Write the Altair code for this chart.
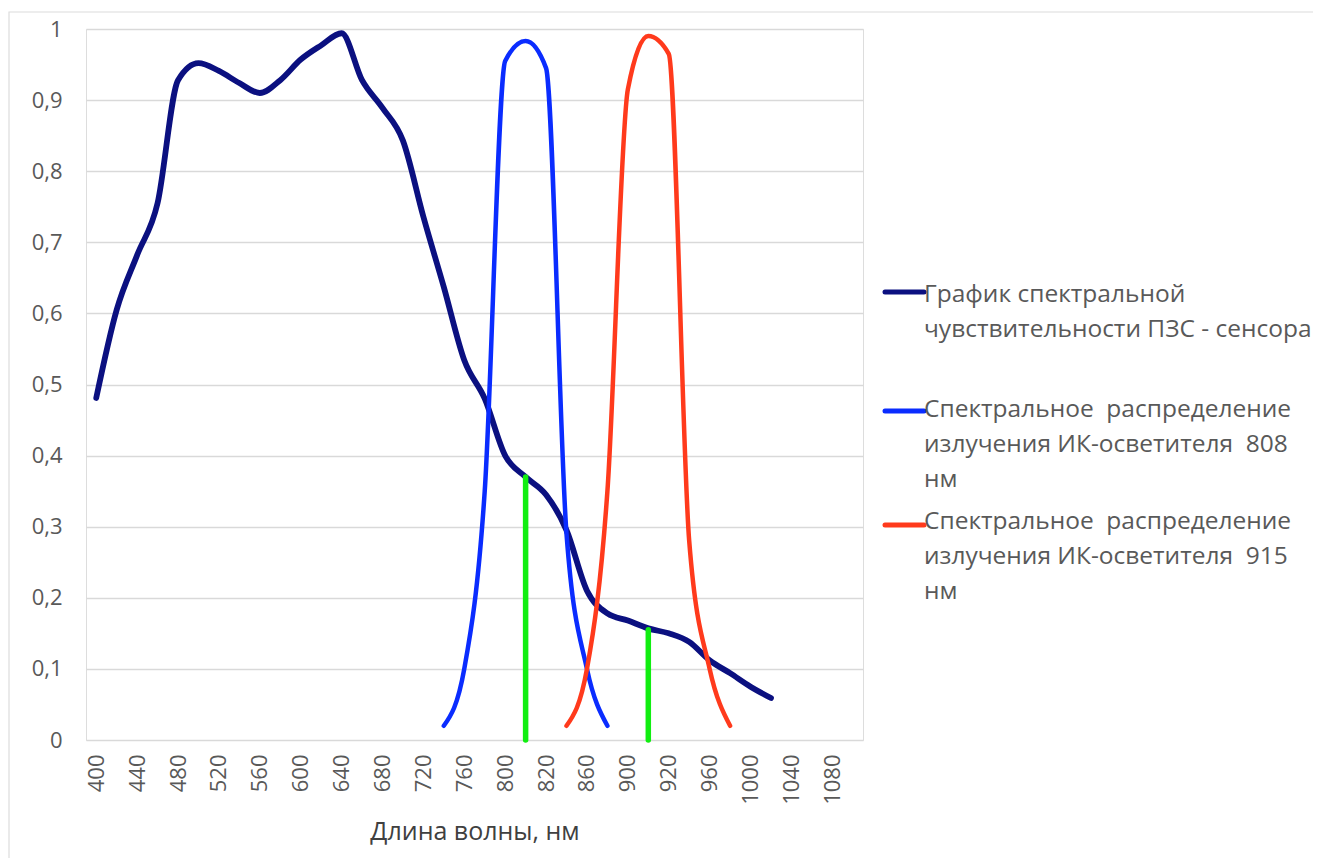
import altair as alt
import pandas as pd

# ---- data ----
categories = [400, 420, 440, 460, 480, 500, 520, 540, 560, 580, 600, 620, 640, 660,
              680, 700, 720, 740, 760, 780, 800, 808, 820, 840, 860, 880, 900, 915,
              920, 940, 960, 980, 1000, 1020, 1040, 1060, 1080, 1100]
tick_labels = [400, 440, 480, 520, 560, 600, 640, 680, 720, 760, 800, 820, 860, 900,
               920, 960, 1000, 1040, 1080]

sensor_wl = [400, 420, 440, 460, 480, 500, 520, 540, 560, 580, 600, 620, 640, 660,
             680, 700, 720, 740, 760, 780, 800, 808, 820, 840, 860, 880, 900, 915,
             920, 940, 960, 980, 1000, 1020]
sensor_val = [0.481, 0.605, 0.682, 0.755, 0.928, 0.952, 0.941, 0.924, 0.910, 0.928,
              0.957, 0.977, 0.994, 0.928, 0.889, 0.843, 0.736, 0.637, 0.534, 0.480,
              0.400, 0.370, 0.345, 0.295, 0.210, 0.178, 0.168, 0.157, 0.150, 0.138,
              0.112, 0.094, 0.075, 0.059]

led808_wl = [740, 760, 780, 800, 808, 820, 840, 860, 880]
led808_val = [0.02, 0.10, 0.35, 0.955, 0.983, 0.945, 0.29, 0.10, 0.02]

led915_wl = [840, 860, 880, 900, 915, 920, 940, 960, 980]
led915_val = [0.02, 0.10, 0.35, 0.915, 0.990, 0.965, 0.28, 0.10, 0.02]

marker_wl = [808, 915]
marker_val = [0.370, 0.155]

y_ticks = [0, 0.1, 0.2, 0.3, 0.4, 0.5, 0.6, 0.7, 0.8, 0.9, 1.0]

NB = "\u00a0"
legend_names = [
    ["График спектральной", "чувствительности ПЗС - сенсора"],
    ["Спектральное" + NB + " распределение", "излучения ИК-осветителя" + NB + " 808", "нм"],
    ["Спектральное" + NB + " распределение", "излучения ИК-осветителя" + NB + " 915", "нм"],
]

NAVY = "#0b1080"
BLUE = "#0a2cff"
RED = "#ff3a1c"
GREEN = "#11ee11"
series_colors = [NAVY, BLUE, RED]

FONT = "Open Sans"
LABEL_COLOR = "#595959"

# ---- encodings ----
x_enc = alt.X(
    "wl:O",
    scale=alt.Scale(type="point", domain=categories, padding=0.5),
    axis=alt.Axis(
        values=tick_labels, labelAngle=270, labelFontSize=22, labelFont=FONT,
        labelColor=LABEL_COLOR, ticks=False, domain=False, grid=False,
        labelPadding=14, title="Длина волны, нм", titleFont=FONT, titleFontSize=25,
        titleFontWeight="normal", titleColor="#404040", titlePadding=15,
    ),
)
y_enc = alt.Y(
    "val:Q",
    scale=alt.Scale(domain=[0, 1], nice=False, zero=True),
    axis=alt.Axis(
        values=y_ticks, labelExpr="replace(format(datum.value, '.1~f'), '.', ',')",
        labelFontSize=22, labelFont=FONT, labelColor=LABEL_COLOR, ticks=False,
        domain=False, grid=True, gridColor="#d9d9d9", gridWidth=1.3,
        labelPadding=24, title=None,
    ),
)

sensor_df = pd.DataFrame({"wl": sensor_wl, "val": sensor_val})
led808_df = pd.DataFrame({"wl": led808_wl, "val": led808_val})
led915_df = pd.DataFrame({"wl": led915_wl, "val": led915_val})
marker_df = pd.DataFrame({"wl": marker_wl, "val": marker_val})

def curve(df, color, width):
    return alt.Chart(df).mark_line(
        color=color, strokeWidth=width, interpolate="monotone", strokeCap="round",
        strokeJoin="round"
    ).encode(x=x_enc, y=y_enc)

sensor = curve(sensor_df, NAVY, 5.8)
led808 = curve(led808_df, BLUE, 4.5)
led915 = curve(led915_df, RED, 4.5)

markers = alt.Chart(marker_df).mark_rule(
    color=GREEN, strokeWidth=5.5, strokeCap="round"
).encode(x=x_enc, y=y_enc, y2=alt.datum(0))

# chart-area frame (light border like the spreadsheet chart)
frame = alt.Chart().mark_rect(
    fillOpacity=0, stroke="#dcdcdc", strokeWidth=1.2
).encode(x=alt.value(-77), x2=alt.value(1300), y=alt.value(-17), y2=alt.value(900))

# ---- manual legend (multi-line labels) ----
legend_x = 799
legend_sym_len = 39
legend_sym_y = [263, 382, 496]
legend_text_y = [273, 388, 500]
legend_layers = []
for lines, color, sy, ty in zip(legend_names, series_colors, legend_sym_y, legend_text_y):
    legend_layers.append(
        alt.Chart().mark_rule(color=color, strokeWidth=5, strokeCap="round").encode(
            x=alt.value(legend_x), x2=alt.value(legend_x + legend_sym_len),
            y=alt.value(sy), y2=alt.value(sy),
        )
    )
    legend_layers.append(
        alt.Chart().mark_text(
            align="left", baseline="alphabetic", font=FONT, fontSize=24.5,
            color=LABEL_COLOR, lineHeight=35,
        ).encode(
            x=alt.value(legend_x + legend_sym_len), y=alt.value(ty), text=alt.value(lines)
        )
    )

chart = alt.layer(frame, sensor, led808, led915, markers, *legend_layers).properties(
    width=777, height=711,
    padding={"left": 78, "top": 21, "right": 450, "bottom": 118},
    autosize=alt.AutoSizeParams(type="none"),
).configure_view(stroke=None).configure(background="white")

chart.save("out.html", embed_options={"renderer": "svg", "actions": False})
